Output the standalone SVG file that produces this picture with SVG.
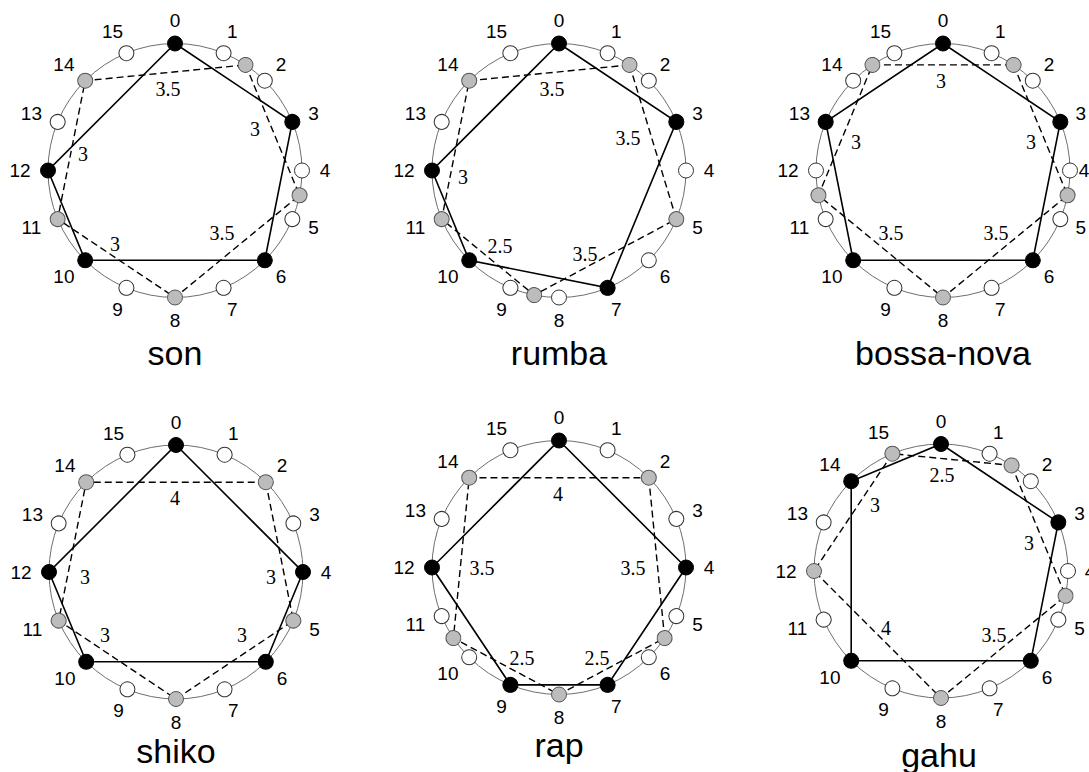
<svg xmlns="http://www.w3.org/2000/svg" width="1089" height="772" viewBox="0 0 1089 772">
<style>
.ring{fill:none;stroke:#6e6e6e;stroke-width:1}
.solid{fill:none;stroke:#000;stroke-width:1.6}
.dash{fill:none;stroke:#000;stroke-width:1.4;stroke-dasharray:7 4}
.b{fill:#000;stroke:#000;stroke-width:1}
.w{fill:#fff;stroke:#333;stroke-width:1}
.g{fill:#bcbcbc;stroke:#555;stroke-width:1}
.num{font-family:"Liberation Sans",Arial,sans-serif;font-size:19px;text-anchor:middle;dominant-baseline:central;fill:#000}
.dist{font-family:"Liberation Serif","Times New Roman",serif;font-size:20px;text-anchor:middle;dominant-baseline:central;fill:#000}
.title{font-family:"Liberation Sans",Arial,sans-serif;font-size:34px;text-anchor:middle;fill:#000}
</style>
<rect width="1089" height="772" fill="#fff"/>

<!-- son: onsets 0 3 6 10 12 -->
<g id="son" transform="translate(175,170.5)">
  <circle class="ring" r="127"/>
  <g id="son-edges">
    <polygon class="solid" points="0,-127 117.33,-48.6 89.8,89.8 -89.8,89.8 -127,0"/>
    <polygon class="dash" points="70.56,-105.6 124.56,24.78 0,127 -117.33,48.6 -89.8,-89.8"/>
    <text class="dist" x="-7" y="-82">3.5</text>
    <text class="dist" x="80" y="-42">3</text>
    <text class="dist" x="47" y="62">3.5</text>
    <text class="dist" x="-60" y="73">3</text>
    <text class="dist" x="-92" y="-17">3</text>
  </g>
  <g id="son-p0" transform="rotate(0)"><circle class="b" cy="-127" r="7.5"/><text class="num" transform="translate(0,-150) rotate(0)">0</text></g>
  <g id="son-p1" transform="rotate(22.5)"><circle class="w" cy="-127" r="7.5"/><text class="num" transform="translate(0,-150) rotate(-22.5)">1</text></g>
  <g id="son-m1" transform="rotate(33.75)"><circle class="g" cy="-127" r="7.5"/></g>
  <g id="son-p2" transform="rotate(45)"><circle class="w" cy="-127" r="7.5"/><text class="num" transform="translate(0,-150) rotate(-45)">2</text></g>
  <g id="son-p3" transform="rotate(67.5)"><circle class="b" cy="-127" r="7.5"/><text class="num" transform="translate(0,-150) rotate(-67.5)">3</text></g>
  <g id="son-p4" transform="rotate(90)"><circle class="w" cy="-127" r="7.5"/><text class="num" transform="translate(0,-150) rotate(-90)">4</text></g>
  <g id="son-m4" transform="rotate(101.25)"><circle class="g" cy="-127" r="7.5"/></g>
  <g id="son-p5" transform="rotate(112.5)"><circle class="w" cy="-127" r="7.5"/><text class="num" transform="translate(0,-150) rotate(-112.5)">5</text></g>
  <g id="son-p6" transform="rotate(135)"><circle class="b" cy="-127" r="7.5"/><text class="num" transform="translate(0,-150) rotate(-135)">6</text></g>
  <g id="son-p7" transform="rotate(157.5)"><circle class="w" cy="-127" r="7.5"/><text class="num" transform="translate(0,-150) rotate(-157.5)">7</text></g>
  <g id="son-p8" transform="rotate(180)"><circle class="g" cy="-127" r="7.5"/><text class="num" transform="translate(0,-150) rotate(-180)">8</text></g>
  <g id="son-p9" transform="rotate(202.5)"><circle class="w" cy="-127" r="7.5"/><text class="num" transform="translate(0,-150) rotate(-202.5)">9</text></g>
  <g id="son-p10" transform="rotate(225)"><circle class="b" cy="-127" r="7.5"/><text class="num" x="-5" transform="translate(0,-150) rotate(-225)">10</text></g>
  <g id="son-p11" transform="rotate(247.5)"><circle class="g" cy="-127" r="7.5"/><text class="num" x="-5" transform="translate(0,-150) rotate(-247.5)">11</text></g>
  <g id="son-p12" transform="rotate(270)"><circle class="b" cy="-127" r="7.5"/><text class="num" x="-5" transform="translate(0,-150) rotate(-270)">12</text></g>
  <g id="son-p13" transform="rotate(292.5)"><circle class="w" cy="-127" r="7.5"/><text class="num" x="-5" transform="translate(0,-150) rotate(-292.5)">13</text></g>
  <g id="son-p14" transform="rotate(315)"><circle class="g" cy="-127" r="7.5"/><text class="num" x="-5" transform="translate(0,-150) rotate(-315)">14</text></g>
  <g id="son-p15" transform="rotate(337.5)"><circle class="w" cy="-127" r="7.5"/><text class="num" x="-5" transform="translate(0,-150) rotate(-337.5)">15</text></g>
  <text class="title" y="194">son</text>
</g>

<!-- rumba: onsets 0 3 7 10 12 -->
<g id="rumba" transform="translate(559,170.5)">
  <circle class="ring" r="127"/>
  <g id="rumba-edges">
    <polygon class="solid" points="0,-127 117.33,-48.6 48.6,117.33 -89.8,89.8 -127,0"/>
    <polygon class="dash" points="70.56,-105.6 117.33,48.6 -24.78,124.56 -117.33,48.6 -89.8,-89.8"/>
    <text class="dist" x="-7" y="-81.5">3.5</text>
    <text class="dist" x="69" y="-32.5">3.5</text>
    <text class="dist" x="26" y="83.5">3.5</text>
    <text class="dist" x="-59" y="75.5">2.5</text>
    <text class="dist" x="-96" y="6.5">3</text>
  </g>
  <g id="rumba-p0" transform="rotate(0)"><circle class="b" cy="-127" r="7.5"/><text class="num" transform="translate(0,-150) rotate(0)">0</text></g>
  <g id="rumba-p1" transform="rotate(22.5)"><circle class="w" cy="-127" r="7.5"/><text class="num" transform="translate(0,-150) rotate(-22.5)">1</text></g>
  <g id="rumba-m1" transform="rotate(33.75)"><circle class="g" cy="-127" r="7.5"/></g>
  <g id="rumba-p2" transform="rotate(45)"><circle class="w" cy="-127" r="7.5"/><text class="num" transform="translate(0,-150) rotate(-45)">2</text></g>
  <g id="rumba-p3" transform="rotate(67.5)"><circle class="b" cy="-127" r="7.5"/><text class="num" transform="translate(0,-150) rotate(-67.5)">3</text></g>
  <g id="rumba-p4" transform="rotate(90)"><circle class="w" cy="-127" r="7.5"/><text class="num" transform="translate(0,-150) rotate(-90)">4</text></g>
  <g id="rumba-p5" transform="rotate(112.5)"><circle class="g" cy="-127" r="7.5"/><text class="num" transform="translate(0,-150) rotate(-112.5)">5</text></g>
  <g id="rumba-p6" transform="rotate(135)"><circle class="w" cy="-127" r="7.5"/><text class="num" transform="translate(0,-150) rotate(-135)">6</text></g>
  <g id="rumba-p7" transform="rotate(157.5)"><circle class="b" cy="-127" r="7.5"/><text class="num" transform="translate(0,-150) rotate(-157.5)">7</text></g>
  <g id="rumba-p8" transform="rotate(180)"><circle class="w" cy="-127" r="7.5"/><text class="num" transform="translate(0,-150) rotate(-180)">8</text></g>
  <g id="rumba-m8" transform="rotate(191.25)"><circle class="g" cy="-127" r="7.5"/></g>
  <g id="rumba-p9" transform="rotate(202.5)"><circle class="w" cy="-127" r="7.5"/><text class="num" transform="translate(0,-150) rotate(-202.5)">9</text></g>
  <g id="rumba-p10" transform="rotate(225)"><circle class="b" cy="-127" r="7.5"/><text class="num" x="-5" transform="translate(0,-150) rotate(-225)">10</text></g>
  <g id="rumba-p11" transform="rotate(247.5)"><circle class="g" cy="-127" r="7.5"/><text class="num" x="-5" transform="translate(0,-150) rotate(-247.5)">11</text></g>
  <g id="rumba-p12" transform="rotate(270)"><circle class="b" cy="-127" r="7.5"/><text class="num" x="-5" transform="translate(0,-150) rotate(-270)">12</text></g>
  <g id="rumba-p13" transform="rotate(292.5)"><circle class="w" cy="-127" r="7.5"/><text class="num" x="-5" transform="translate(0,-150) rotate(-292.5)">13</text></g>
  <g id="rumba-p14" transform="rotate(315)"><circle class="g" cy="-127" r="7.5"/><text class="num" x="-5" transform="translate(0,-150) rotate(-315)">14</text></g>
  <g id="rumba-p15" transform="rotate(337.5)"><circle class="w" cy="-127" r="7.5"/><text class="num" x="-5" transform="translate(0,-150) rotate(-337.5)">15</text></g>
  <text class="title" y="194">rumba</text>
</g>

<!-- bossa-nova: onsets 0 3 6 10 13 -->
<g id="bossa-nova" transform="translate(943,170.5)">
  <circle class="ring" r="127"/>
  <g id="bossa-nova-edges">
    <polygon class="solid" points="0,-127 117.33,-48.6 89.8,89.8 -89.8,89.8 -117.33,-48.6"/>
    <polygon class="dash" points="70.56,-105.6 124.56,24.78 0,127 -124.56,24.78 -70.56,-105.6"/>
    <text class="dist" x="-2" y="-89.5">3</text>
    <text class="dist" x="88" y="-28.5">3</text>
    <text class="dist" x="53" y="62.5">3.5</text>
    <text class="dist" x="-52" y="62.5">3.5</text>
    <text class="dist" x="-87" y="-28.5">3</text>
  </g>
  <g id="bossa-nova-p0" transform="rotate(0)"><circle class="b" cy="-127" r="7.5"/><text class="num" transform="translate(0,-150) rotate(0)">0</text></g>
  <g id="bossa-nova-p1" transform="rotate(22.5)"><circle class="w" cy="-127" r="7.5"/><text class="num" transform="translate(0,-150) rotate(-22.5)">1</text></g>
  <g id="bossa-nova-m1" transform="rotate(33.75)"><circle class="g" cy="-127" r="7.5"/></g>
  <g id="bossa-nova-p2" transform="rotate(45)"><circle class="w" cy="-127" r="7.5"/><text class="num" transform="translate(0,-150) rotate(-45)">2</text></g>
  <g id="bossa-nova-p3" transform="rotate(67.5)"><circle class="b" cy="-127" r="7.5"/><text class="num" transform="translate(0,-149) rotate(-67.5)">3</text></g>
  <g id="bossa-nova-p4" transform="rotate(90)"><circle class="w" cy="-127" r="7.5"/><text class="num" transform="translate(0,-141) rotate(-90)">4</text></g>
  <g id="bossa-nova-m4" transform="rotate(101.25)"><circle class="g" cy="-127" r="7.5"/></g>
  <g id="bossa-nova-p5" transform="rotate(112.5)"><circle class="w" cy="-127" r="7.5"/><text class="num" transform="translate(0,-149) rotate(-112.5)">5</text></g>
  <g id="bossa-nova-p6" transform="rotate(135)"><circle class="b" cy="-127" r="7.5"/><text class="num" transform="translate(0,-150) rotate(-135)">6</text></g>
  <g id="bossa-nova-p7" transform="rotate(157.5)"><circle class="w" cy="-127" r="7.5"/><text class="num" transform="translate(0,-150) rotate(-157.5)">7</text></g>
  <g id="bossa-nova-p8" transform="rotate(180)"><circle class="g" cy="-127" r="7.5"/><text class="num" transform="translate(0,-150) rotate(-180)">8</text></g>
  <g id="bossa-nova-p9" transform="rotate(202.5)"><circle class="w" cy="-127" r="7.5"/><text class="num" transform="translate(0,-150) rotate(-202.5)">9</text></g>
  <g id="bossa-nova-p10" transform="rotate(225)"><circle class="b" cy="-127" r="7.5"/><text class="num" x="-5" transform="translate(0,-150) rotate(-225)">10</text></g>
  <g id="bossa-nova-p11" transform="rotate(247.5)"><circle class="w" cy="-127" r="7.5"/><text class="num" x="-5" transform="translate(0,-150) rotate(-247.5)">11</text></g>
  <g id="bossa-nova-m11" transform="rotate(258.75)"><circle class="g" cy="-127" r="7.5"/></g>
  <g id="bossa-nova-p12" transform="rotate(270)"><circle class="w" cy="-127" r="7.5"/><text class="num" x="-5" transform="translate(0,-150) rotate(-270)">12</text></g>
  <g id="bossa-nova-p13" transform="rotate(292.5)"><circle class="b" cy="-127" r="7.5"/><text class="num" x="-5" transform="translate(0,-150) rotate(-292.5)">13</text></g>
  <g id="bossa-nova-p14" transform="rotate(315)"><circle class="w" cy="-127" r="7.5"/><text class="num" x="-5" transform="translate(0,-150) rotate(-315)">14</text></g>
  <g id="bossa-nova-m14" transform="rotate(326.25)"><circle class="g" cy="-127" r="7.5"/></g>
  <g id="bossa-nova-p15" transform="rotate(337.5)"><circle class="w" cy="-127" r="7.5"/><text class="num" x="-5" transform="translate(0,-150) rotate(-337.5)">15</text></g>
  <text class="title" y="194">bossa-nova</text>
</g>

<!-- shiko: onsets 0 4 6 10 12 -->
<g id="shiko" transform="translate(176,572)">
  <circle class="ring" r="127"/>
  <g id="shiko-edges">
    <polygon class="solid" points="0,-127 127,0 89.8,89.8 -89.8,89.8 -127,0"/>
    <polygon class="dash" points="89.8,-89.8 117.33,48.6 0,127 -117.33,48.6 -89.8,-89.8"/>
    <text class="dist" x="-1" y="-74">4</text>
    <text class="dist" x="95" y="5">3</text>
    <text class="dist" x="66" y="63">3</text>
    <text class="dist" x="-71" y="63">3</text>
    <text class="dist" x="-91" y="5">3</text>
  </g>
  <g id="shiko-p0" transform="rotate(0)"><circle class="b" cy="-127" r="7.5"/><text class="num" transform="translate(0,-150) rotate(0)">0</text></g>
  <g id="shiko-p1" transform="rotate(22.5)"><circle class="w" cy="-127" r="7.5"/><text class="num" transform="translate(0,-150) rotate(-22.5)">1</text></g>
  <g id="shiko-p2" transform="rotate(45)"><circle class="g" cy="-127" r="7.5"/><text class="num" transform="translate(0,-150) rotate(-45)">2</text></g>
  <g id="shiko-p3" transform="rotate(67.5)"><circle class="w" cy="-127" r="7.5"/><text class="num" transform="translate(0,-150) rotate(-67.5)">3</text></g>
  <g id="shiko-p4" transform="rotate(90)"><circle class="b" cy="-127" r="7.5"/><text class="num" transform="translate(0,-150) rotate(-90)">4</text></g>
  <g id="shiko-p5" transform="rotate(112.5)"><circle class="g" cy="-127" r="7.5"/><text class="num" transform="translate(0,-150) rotate(-112.5)">5</text></g>
  <g id="shiko-p6" transform="rotate(135)"><circle class="b" cy="-127" r="7.5"/><text class="num" transform="translate(0,-150) rotate(-135)">6</text></g>
  <g id="shiko-p7" transform="rotate(157.5)"><circle class="w" cy="-127" r="7.5"/><text class="num" transform="translate(0,-150) rotate(-157.5)">7</text></g>
  <g id="shiko-p8" transform="rotate(180)"><circle class="g" cy="-127" r="7.5"/><text class="num" transform="translate(0,-150) rotate(-180)">8</text></g>
  <g id="shiko-p9" transform="rotate(202.5)"><circle class="w" cy="-127" r="7.5"/><text class="num" transform="translate(0,-150) rotate(-202.5)">9</text></g>
  <g id="shiko-p10" transform="rotate(225)"><circle class="b" cy="-127" r="7.5"/><text class="num" x="-5" transform="translate(0,-150) rotate(-225)">10</text></g>
  <g id="shiko-p11" transform="rotate(247.5)"><circle class="g" cy="-127" r="7.5"/><text class="num" x="-5" transform="translate(0,-150) rotate(-247.5)">11</text></g>
  <g id="shiko-p12" transform="rotate(270)"><circle class="b" cy="-127" r="7.5"/><text class="num" x="-5" transform="translate(0,-150) rotate(-270)">12</text></g>
  <g id="shiko-p13" transform="rotate(292.5)"><circle class="w" cy="-127" r="7.5"/><text class="num" x="-5" transform="translate(0,-150) rotate(-292.5)">13</text></g>
  <g id="shiko-p14" transform="rotate(315)"><circle class="g" cy="-127" r="7.5"/><text class="num" x="-5" transform="translate(0,-150) rotate(-315)">14</text></g>
  <g id="shiko-p15" transform="rotate(337.5)"><circle class="w" cy="-127" r="7.5"/><text class="num" x="-5" transform="translate(0,-150) rotate(-337.5)">15</text></g>
  <text class="title" y="191">shiko</text>
</g>

<!-- rap: onsets 0 4 7 9 12 -->
<g id="rap" transform="translate(559,567.5)">
  <circle class="ring" r="127"/>
  <g id="rap-edges">
    <polygon class="solid" points="0,-127 127,0 48.6,117.33 -48.6,117.33 -127,0"/>
    <polygon class="dash" points="89.8,-89.8 105.6,70.56 0,127 -105.6,70.56 -89.8,-89.8"/>
    <text class="dist" x="-1" y="-74">4</text>
    <text class="dist" x="74" y="0">3.5</text>
    <text class="dist" x="38" y="90">2.5</text>
    <text class="dist" x="-37" y="90">2.5</text>
    <text class="dist" x="-77" y="0">3.5</text>
  </g>
  <g id="rap-p0" transform="rotate(0)"><circle class="b" cy="-127" r="7.5"/><text class="num" transform="translate(0,-150) rotate(0)">0</text></g>
  <g id="rap-p1" transform="rotate(22.5)"><circle class="w" cy="-127" r="7.5"/><text class="num" transform="translate(0,-150) rotate(-22.5)">1</text></g>
  <g id="rap-p2" transform="rotate(45)"><circle class="g" cy="-127" r="7.5"/><text class="num" transform="translate(0,-150) rotate(-45)">2</text></g>
  <g id="rap-p3" transform="rotate(67.5)"><circle class="w" cy="-127" r="7.5"/><text class="num" transform="translate(0,-150) rotate(-67.5)">3</text></g>
  <g id="rap-p4" transform="rotate(90)"><circle class="b" cy="-127" r="7.5"/><text class="num" transform="translate(0,-150) rotate(-90)">4</text></g>
  <g id="rap-p5" transform="rotate(112.5)"><circle class="w" cy="-127" r="7.5"/><text class="num" transform="translate(0,-150) rotate(-112.5)">5</text></g>
  <g id="rap-m5" transform="rotate(123.75)"><circle class="g" cy="-127" r="7.5"/></g>
  <g id="rap-p6" transform="rotate(135)"><circle class="w" cy="-127" r="7.5"/><text class="num" transform="translate(0,-150) rotate(-135)">6</text></g>
  <g id="rap-p7" transform="rotate(157.5)"><circle class="b" cy="-127" r="7.5"/><text class="num" transform="translate(0,-150) rotate(-157.5)">7</text></g>
  <g id="rap-p8" transform="rotate(180)"><circle class="g" cy="-127" r="7.5"/><text class="num" transform="translate(0,-150) rotate(-180)">8</text></g>
  <g id="rap-p9" transform="rotate(202.5)"><circle class="b" cy="-127" r="7.5"/><text class="num" transform="translate(0,-150) rotate(-202.5)">9</text></g>
  <g id="rap-p10" transform="rotate(225)"><circle class="w" cy="-127" r="7.5"/><text class="num" x="-5" transform="translate(0,-150) rotate(-225)">10</text></g>
  <g id="rap-m10" transform="rotate(236.25)"><circle class="g" cy="-127" r="7.5"/></g>
  <g id="rap-p11" transform="rotate(247.5)"><circle class="w" cy="-127" r="7.5"/><text class="num" x="-5" transform="translate(0,-150) rotate(-247.5)">11</text></g>
  <g id="rap-p12" transform="rotate(270)"><circle class="b" cy="-127" r="7.5"/><text class="num" x="-5" transform="translate(0,-150) rotate(-270)">12</text></g>
  <g id="rap-p13" transform="rotate(292.5)"><circle class="w" cy="-127" r="7.5"/><text class="num" x="-5" transform="translate(0,-150) rotate(-292.5)">13</text></g>
  <g id="rap-p14" transform="rotate(315)"><circle class="g" cy="-127" r="7.5"/><text class="num" x="-5" transform="translate(0,-150) rotate(-315)">14</text></g>
  <g id="rap-p15" transform="rotate(337.5)"><circle class="w" cy="-127" r="7.5"/><text class="num" x="-5" transform="translate(0,-150) rotate(-337.5)">15</text></g>
  <text class="title" y="189">rap</text>
</g>

<!-- gahu: onsets 0 3 6 10 14 -->
<g id="gahu" transform="translate(941,571)">
  <circle class="ring" r="127"/>
  <g id="gahu-edges">
    <polygon class="solid" points="0,-127 117.33,-48.6 89.8,89.8 -89.8,89.8 -89.8,-89.8"/>
    <polygon class="dash" points="70.56,-105.6 124.56,24.78 0,127 -127,0 -48.6,-117.33"/>
    <text class="dist" x="1" y="-96">2.5</text>
    <text class="dist" x="88" y="-28">3</text>
    <text class="dist" x="53" y="64">3.5</text>
    <text class="dist" x="-55" y="57">4</text>
    <text class="dist" x="-66" y="-66">3</text>
  </g>
  <g id="gahu-p0" transform="rotate(0)"><circle class="b" cy="-127" r="7.5"/><text class="num" transform="translate(0,-150) rotate(0)">0</text></g>
  <g id="gahu-p1" transform="rotate(22.5)"><circle class="w" cy="-127" r="7.5"/><text class="num" transform="translate(0,-150) rotate(-22.5)">1</text></g>
  <g id="gahu-m1" transform="rotate(33.75)"><circle class="g" cy="-127" r="7.5"/></g>
  <g id="gahu-p2" transform="rotate(45)"><circle class="w" cy="-127" r="7.5"/><text class="num" transform="translate(0,-150) rotate(-45)">2</text></g>
  <g id="gahu-p3" transform="rotate(67.5)"><circle class="b" cy="-127" r="7.5"/><text class="num" transform="translate(0,-150) rotate(-67.5)">3</text></g>
  <g id="gahu-p4" transform="rotate(90)"><circle class="w" cy="-127" r="7.5"/><text class="num" transform="translate(0,-149) rotate(-90)">4</text></g>
  <g id="gahu-m4" transform="rotate(101.25)"><circle class="g" cy="-127" r="7.5"/></g>
  <g id="gahu-p5" transform="rotate(112.5)"><circle class="w" cy="-127" r="7.5"/><text class="num" transform="translate(0,-150) rotate(-112.5)">5</text></g>
  <g id="gahu-p6" transform="rotate(135)"><circle class="b" cy="-127" r="7.5"/><text class="num" transform="translate(0,-150) rotate(-135)">6</text></g>
  <g id="gahu-p7" transform="rotate(157.5)"><circle class="w" cy="-127" r="7.5"/><text class="num" transform="translate(0,-150) rotate(-157.5)">7</text></g>
  <g id="gahu-p8" transform="rotate(180)"><circle class="g" cy="-127" r="7.5"/><text class="num" transform="translate(0,-150) rotate(-180)">8</text></g>
  <g id="gahu-p9" transform="rotate(202.5)"><circle class="w" cy="-127" r="7.5"/><text class="num" transform="translate(0,-150) rotate(-202.5)">9</text></g>
  <g id="gahu-p10" transform="rotate(225)"><circle class="b" cy="-127" r="7.5"/><text class="num" x="-5" transform="translate(0,-150) rotate(-225)">10</text></g>
  <g id="gahu-p11" transform="rotate(247.5)"><circle class="w" cy="-127" r="7.5"/><text class="num" x="-5" transform="translate(0,-150) rotate(-247.5)">11</text></g>
  <g id="gahu-p12" transform="rotate(270)"><circle class="g" cy="-127" r="7.5"/><text class="num" x="-5" transform="translate(0,-150) rotate(-270)">12</text></g>
  <g id="gahu-p13" transform="rotate(292.5)"><circle class="w" cy="-127" r="7.5"/><text class="num" x="-5" transform="translate(0,-150) rotate(-292.5)">13</text></g>
  <g id="gahu-p14" transform="rotate(315)"><circle class="b" cy="-127" r="7.5"/><text class="num" x="-5" transform="translate(0,-150) rotate(-315)">14</text></g>
  <g id="gahu-p15" transform="rotate(337.5)"><circle class="g" cy="-127" r="7.5"/><text class="num" x="-5" transform="translate(0,-150) rotate(-337.5)">15</text></g>
  <text class="title" x="-2" y="196">gahu</text>
</g>
</svg>
